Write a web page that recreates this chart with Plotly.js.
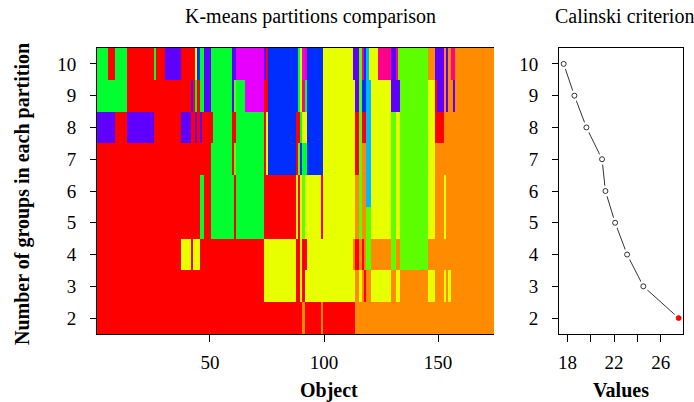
<!DOCTYPE html>
<html>
<head>
<meta charset="utf-8">
<script src="https://cdn.plot.ly/plotly-3.0.1.min.js"></script>
<style>
  html, body { margin: 0; padding: 0; background: #fff; }
  #chart { width: 694px; height: 402px; }
</style>
</head>
<body>
<div id="chart"></div>
<script>
// Number of objects clustered and the partitions tested (k = 2..10)
const nObjects = 174;
const groupCounts = [2, 3, 4, 5, 6, 7, 8, 9, 10];

// Calinski-Harabasz criterion for each partition (same order as groupCounts)
const calinskiValues = [27.54, 24.51, 23.12, 22.09, 21.26, 20.97, 19.63, 18.60, 17.68];

// Tick labels
const objectTicks = [50, 100, 150];
const valueTicks = [18, 20, 22, 24, 26];
const valueTickText = ['18', '', '22', '', '26'];

// Group colours (rainbow palette), keyed by short codes used in the runs below
const groupCodes = ['R', 'O', 'Y', 'G5', 'G2', 'T', 'LB', 'B', 'P', 'M', 'Pk'];
const groupColors = ['#FF0000', '#FF8B00', '#E8FF00', '#5DFF00', '#00FF2E', '#00FFB9',
                     '#00B9FF', '#002EFF', '#5D00FF', '#E800FF', '#FF008B'];

// Group membership of the (sorted) objects, as runs of [count, group]
const k2 = [[90,'R'],[1,'O'],[7,'R'],[1,'O'],[14,'R'],[61,'O']];
const k3 = [[73,'R'],[14,'Y'],[2,'R'],[1,'Y'],[1,'R'],[22,'Y'],[2,'O'],[1,'Y'],[1,'O'],[1,'R'],
            [2,'O'],[9,'Y'],[2,'O'],[2,'Y'],[12,'O'],[3,'Y'],[4,'O'],[1,'Y'],[1,'O'],[1,'Y'],[19,'O']];
const k4 = [[37,'R'],[4,'Y'],[1,'R'],[3,'Y'],[28,'R'],[14,'Y'],[2,'R'],[1,'Y'],[2,'R'],[20,'Y'],
            [1,'O'],[2,'R'],[1,'O'],[1,'R'],[1,'O'],[2,'G5'],[9,'O'],[2,'G5'],[2,'O'],[12,'G5'],[29,'O']];
const k5 = [[45,'R'],[2,'G2'],[3,'R'],[10,'G2'],[1,'R'],[12,'G2'],[14,'R'],[1,'Y'],[1,'R'],[1,'Y'],
            [1,'G5'],[7,'Y'],[1,'R'],[14,'Y'],[2,'O'],[1,'G5'],[2,'O'],[2,'G5'],[9,'Y'],[2,'G5'],
            [2,'Y'],[12,'G5'],[3,'Y'],[4,'O'],[1,'Y'],[21,'O']];
const k6 = [[45,'R'],[2,'G2'],[3,'R'],[10,'G2'],[1,'R'],[12,'G2'],[14,'R'],[1,'Y'],[1,'R'],[1,'Y'],
            [1,'G5'],[7,'Y'],[1,'R'],[14,'Y'],[2,'O'],[1,'G5'],[2,'O'],[2,'LB'],[9,'Y'],[2,'G5'],
            [2,'Y'],[12,'G5'],[3,'Y'],[4,'O'],[1,'Y'],[21,'O']];
const k7 = [[50,'R'],[9,'G2'],[1,'R'],[1,'G5'],[12,'G2'],[1,'R'],[1,'Y'],[12,'B'],[1,'R'],[1,'G5'],
            [1,'B'],[2,'G2'],[7,'B'],[14,'Y'],[2,'R'],[1,'G5'],[2,'O'],[2,'LB'],[9,'Y'],[2,'G5'],
            [2,'Y'],[12,'G5'],[3,'Y'],[26,'O']];
const k8 = [[8,'P'],[5,'R'],[12,'P'],[12,'R'],[4,'P'],[2,'R'],[1,'P'],[1,'R'],[1,'P'],[5,'R'],
            [8,'G2'],[2,'R'],[12,'G2'],[1,'R'],[1,'Y'],[12,'B'],[2,'R'],[1,'G2'],[2,'Y'],[7,'B'],
            [14,'Y'],[2,'R'],[1,'G5'],[2,'R'],[2,'LB'],[9,'Y'],[2,'G5'],[2,'Y'],[12,'G5'],[3,'Y'],
            [4,'R'],[22,'O']];
const k9 = [[13,'G2'],[28,'R'],[1,'P'],[1,'R'],[1,'G2'],[1,'R'],[2,'G2'],[3,'P'],[9,'G2'],[1,'P'],
            [1,'G5'],[4,'G2'],[8,'M'],[2,'R'],[13,'B'],[1,'G2'],[1,'Y'],[1,'Pk'],[1,'G2'],[7,'B'],
            [14,'Y'],[2,'P'],[1,'G5'],[2,'B'],[2,'LB'],[9,'Y'],[4,'P'],[12,'G5'],[3,'Y'],[1,'R'],
            [3,'P'],[1,'O'],[1,'P'],[2,'O'],[1,'P'],[17,'O']];
const k10 = [[5,'G2'],[3,'R'],[5,'G2'],[12,'R'],[1,'G2'],[4,'R'],[7,'P'],[6,'R'],[1,'Y'],[1,'B'],
             [2,'G2'],[3,'P'],[9,'G2'],[2,'P'],[12,'M'],[1,'P'],[1,'R'],[13,'B'],[1,'G2'],[1,'Y'],
             [1,'M'],[1,'Pk'],[7,'B'],[13,'Y'],[3,'P'],[1,'G5'],[1,'Pk'],[1,'B'],[1,'LB'],[4,'Y'],
             [6,'Pk'],[2,'P'],[1,'Pk'],[13,'G5'],[3,'O'],[4,'P'],[1,'O'],[1,'P'],[1,'O'],[2,'Pk'],
             [17,'O']];

const partitions = [k2, k3, k4, k5, k6, k7, k8, k9, k10];

// Expand a run list into one group index per object
function expandRuns(runs) {
  const row = [];
  runs.forEach(([count, code]) => {
    const idx = groupCodes.indexOf(code);
    for (let i = 0; i < count; i++) row.push(idx);
  });
  return row;
}

const zMatrix = partitions.map(expandRuns);
const objectIds = Array.from({length: nObjects}, (_, i) => i + 1);

// Discrete colour scale: one flat band per group index
const nColors = groupColors.length;
const colorscale = [];
groupColors.forEach((c, i) => {
  colorscale.push([i / nColors, c]);
  colorscale.push([(i + 1) / nColors, c]);
});

const FONT = 'Liberation Serif, Times New Roman, serif';
const W = 694, H = 402;
const px = v => v / W;
const py = v => 1 - v / H;

const heat = {
  type: 'heatmap',
  x: objectIds,
  y: groupCounts,
  z: zMatrix,
  zmin: -0.5,
  zmax: nColors - 0.5,
  colorscale: colorscale,
  showscale: false,
  zsmooth: false,
  hoverinfo: 'skip',
  xaxis: 'x',
  yaxis: 'y'
};

const critLine = {
  type: 'scatter', mode: 'lines',
  x: calinskiValues, y: groupCounts,
  line: {color: '#000', width: 0.8},
  xaxis: 'x2', yaxis: 'y2', hoverinfo: 'skip'
};

// white halo around each point so the connecting line stops short of it
const critGap = {
  type: 'scatter', mode: 'markers',
  x: calinskiValues, y: groupCounts,
  marker: {size: 11, color: '#fff', line: {width: 0}},
  xaxis: 'x2', yaxis: 'y2', hoverinfo: 'skip'
};

const best = calinskiValues.indexOf(Math.max(...calinskiValues));
const critPoints = {
  type: 'scatter', mode: 'markers',
  x: calinskiValues, y: groupCounts,
  marker: {
    size: 5,
    color: calinskiValues.map((_, i) => i === best ? '#FF0000' : '#fff'),
    line: {width: 0.8, color: calinskiValues.map((_, i) => i === best ? '#FF0000' : '#000')}
  },
  xaxis: 'x2', yaxis: 'y2', hoverinfo: 'skip'
};

const tickFont = {family: FONT, size: 19, color: '#000'};
const axisCommon = {
  showgrid: false, zeroline: false,
  showline: true, linecolor: '#000', linewidth: 1,
  ticks: 'outside', ticklen: 7, tickcolor: '#000', tickwidth: 1,
  tickfont: tickFont, fixedrange: true
};

const plotTop = 48, plotBottom = 334;

const layout = {
  width: W, height: H,
  margin: {l: 0, r: 0, t: 0, b: 0},
  paper_bgcolor: '#fff', plot_bgcolor: '#fff',
  showlegend: false,
  xaxis: Object.assign({}, axisCommon, {
    domain: [px(97), px(494)], range: [0.5, nObjects + 0.5],
    tickvals: objectTicks, ticktext: objectTicks.map(String),
    mirror: true, anchor: 'y', ticklabelstandoff: 4
  }),
  yaxis: Object.assign({}, axisCommon, {
    domain: [py(plotBottom), py(plotTop)], range: [1.5, 10.5],
    tickvals: groupCounts, ticktext: groupCounts.map(String),
    ticklen: 6, anchor: 'x', ticklabelstandoff: 10
  }),
  xaxis2: Object.assign({}, axisCommon, {
    domain: [px(559), px(683)], range: [17.28, 27.91],
    tickvals: valueTicks, ticktext: valueTickText,
    mirror: true, anchor: 'y2', ticklabelstandoff: 4
  }),
  yaxis2: Object.assign({}, axisCommon, {
    domain: [py(plotBottom), py(plotTop)], range: [1.5, 10.5],
    tickvals: groupCounts, ticktext: groupCounts.map(String),
    ticklen: 6, mirror: true, anchor: 'x2', ticklabelstandoff: 10
  }),
  annotations: [
    {text: 'K-means partitions comparison', x: px(310), y: py(16), xref: 'paper', yref: 'paper',
     xanchor: 'center', yanchor: 'middle', showarrow: false,
     font: {family: FONT, size: 20, color: '#000'}},
    {text: 'Calinski criterion', x: px(624), y: py(16), xref: 'paper', yref: 'paper',
     xanchor: 'center', yanchor: 'middle', showarrow: false,
     font: {family: FONT, size: 20, color: '#000'}},
    {text: '<b>Object</b>', x: px(329), y: py(390), xref: 'paper', yref: 'paper',
     xanchor: 'center', yanchor: 'middle', showarrow: false,
     font: {family: FONT, size: 20, color: '#000'}},
    {text: '<b>Values</b>', x: px(621), y: py(390), xref: 'paper', yref: 'paper',
     xanchor: 'center', yanchor: 'middle', showarrow: false,
     font: {family: FONT, size: 20, color: '#000'}},
    {text: '<b>Number of groups in each partition</b>', x: px(22), y: py(194), xref: 'paper', yref: 'paper',
     xanchor: 'center', yanchor: 'middle', textangle: -90, showarrow: false,
     font: {family: FONT, size: 20, color: '#000'}}
  ]
};

Plotly.newPlot('chart', [heat, critLine, critGap, critPoints], layout, {staticPlot: true, displayModeBar: false});
</script>
</body>
</html>
